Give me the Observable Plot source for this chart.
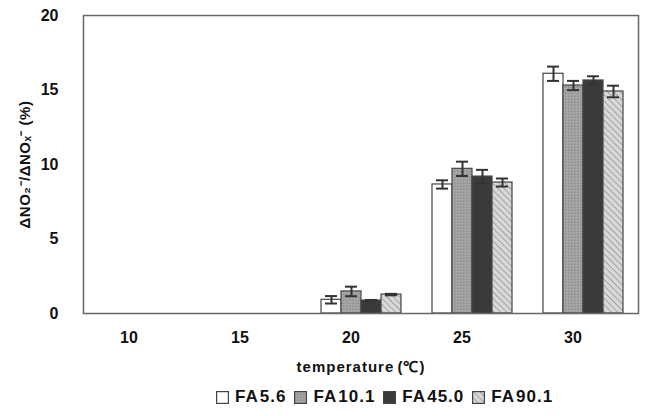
<!DOCTYPE html>
<html><head><meta charset="utf-8">
<script src="https://cdn.jsdelivr.net/npm/d3@7"></script>
<script src="https://cdn.jsdelivr.net/npm/@observablehq/plot@0.6"></script>
<style>
body{margin:0;background:#fff;font-family:"Liberation Sans",Arial,sans-serif;}
#legend{display:flex;justify-content:flex-start;gap:8px;font-size:17px;font-weight:bold;color:#111;margin-top:7px;padding-left:216px;letter-spacing:1px;word-spacing:-4px}
#legend span.item{display:flex;align-items:center;gap:6px}
#chart svg g[aria-label="y-axis label"] text{font-size:15px;letter-spacing:0.5px}
#chart svg g[aria-label="fx-axis label"] text{font-size:15px;letter-spacing:1px;word-spacing:-2px}
</style></head><body>
<div id="chart"></div>
<div id="legend"></div>
<script>
const temperatures = ["10","15","20","25","30"];
const series = ["FA 5.6","FA 10.1","FA 45.0","FA 90.1"];
const valuesFA56  = [null, null, 0.92, 8.66, 16.09];
const valuesFA101 = [null, null, 1.48, 9.71, 15.3];
const valuesFA450 = [null, null, 0.87, 9.19, 15.64];
const valuesFA901 = [null, null, 1.27, 8.79, 14.9];
const errFA56  = [null, null, 0.25, 0.28, 0.48];
const errFA101 = [null, null, 0.32, 0.48, 0.31];
const errFA450 = [null, null, 0.04, 0.45, 0.28];
const errFA901 = [null, null, 0.05, 0.27, 0.39];
const yTicks = [0,5,10,15,20];

const vals = [valuesFA56, valuesFA101, valuesFA450, valuesFA901];
const errs = [errFA56, errFA101, errFA450, errFA901];
const data = [];
temperatures.forEach((t, i) => series.forEach((s, j) => {
  data.push({t, s, v: vals[j][i], e: errs[j][i]});
}));
const lo = d => d.v == null ? null : d.v - d.e;
const hi = d => d.v == null ? null : d.v + d.e;

const fills = ["#ffffff", "url(#grayTex)", "#3a3a3a", "url(#hatch)"];

const chart = Plot.plot({
  width: 649, height: 380,
  marginLeft: 82, marginRight: 10, marginTop: 15, marginBottom: 67,
  style: {fontFamily: '"Liberation Sans", Arial, sans-serif', color: "#111", fontSize: "16px", fontWeight: "bold"},
  fx: {domain: temperatures, padding: 0, axis: "bottom", tickSize: 0, tickPadding: 18,
       label: "temperature (℃)", labelAnchor: "center", labelOffset: 58},
  x: {domain: series, paddingInner: 0, paddingOuter: 0.72, axis: null},
  y: {domain: [0, 20], axis: "left", ticks: yTicks, tickSize: 0, tickPadding: 25,
      label: "ΔNO₂⁻/ΔNOₓ⁻ (%)", labelAnchor: "center", labelOffset: 64, labelArrow: "none"},
  color: {domain: series, range: fills},
  marks: [
    Plot.barY(data, {fx: "t", x: "s", y: "v", fill: "s", stroke: "#444", strokeWidth: 1.2}),
    Plot.ruleX(data, {fx: "t", x: "s", y1: lo, y2: hi, stroke: "#333", strokeWidth: 2}),
    Plot.tickY(data, {fx: "t", x: "s", y: lo, stroke: "#333", strokeWidth: 2, insetLeft: 4, insetRight: 4}),
    Plot.tickY(data, {fx: "t", x: "s", y: hi, stroke: "#333", strokeWidth: 2, insetLeft: 4, insetRight: 4}),
    Plot.frame({stroke: "#666", strokeWidth: 1.5, facet: "super"})
  ]
});

const defsMarkup = `
<pattern id="hatch" patternUnits="userSpaceOnUse" width="4.5" height="4.5" patternTransform="rotate(-45)">
  <rect width="4.5" height="4.5" fill="#d8d8d8"/>
  <line x1="0" y1="0" x2="0" y2="4.5" stroke="#9e9e9e" stroke-width="1.8"/>
</pattern>
<pattern id="grayTex" patternUnits="userSpaceOnUse" width="3" height="3">
  <rect width="3" height="3" fill="#a0a0a0"/>
  <rect width="1" height="1" fill="#8c8c8c"/>
  <rect x="2" y="1" width="1" height="1" fill="#b2b2b2"/>
</pattern>`;
const defs = document.createElementNS("http://www.w3.org/2000/svg", "defs");
defs.innerHTML = defsMarkup;
chart.insertBefore(defs, chart.firstChild);
document.getElementById("chart").appendChild(chart);

// shift the temperature tick labels slightly left as in the reference
const fxTicks = chart.querySelector('g[aria-label="fx-axis tick label"]');
if (fxTicks) fxTicks.setAttribute("transform", "translate(-10,0) " + (fxTicks.getAttribute("transform") || ""));

const legend = document.getElementById("legend");
series.forEach((s, j) => {
  const item = document.createElement("span");
  item.className = "item";
  item.innerHTML = `<svg width="13" height="13"><rect x="0.6" y="0.6" width="11.8" height="11.8" fill="${fills[j]}" stroke="#444" stroke-width="1.2"/></svg>`;
  const label = document.createElement("span");
  label.textContent = s;
  item.appendChild(label);
  legend.appendChild(item);
});
</script>
</body></html>
